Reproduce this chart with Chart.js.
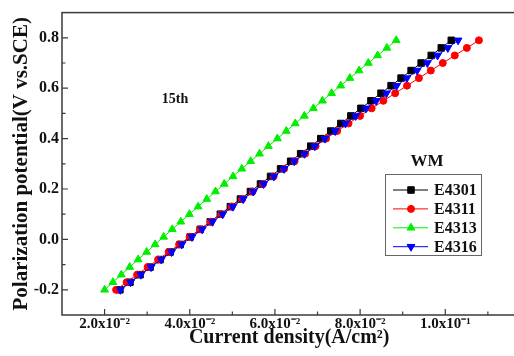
<!DOCTYPE html>
<html>
<head>
<meta charset="utf-8">
<script src="https://cdn.jsdelivr.net/npm/chart.js@4.4.1/dist/chart.umd.min.js"></script>
<style>
  html, body { margin: 0; padding: 0; background: #fff; overflow: hidden; }
  #wrap { width: 514px; height: 356px; overflow: hidden; }
</style>
</head>
<body>
<div id="wrap"><canvas id="polChart" width="522" height="356"></canvas></div>
<script>
// =============== DATA ===============
const potential = [-0.20, -0.17, -0.14, -0.11, -0.08, -0.05, -0.02, 0.01, 0.04, 0.07, 0.10, 0.13,
  0.16, 0.19, 0.22, 0.25, 0.28, 0.31, 0.34, 0.37, 0.40, 0.43, 0.46, 0.49, 0.52, 0.55, 0.58,
  0.61, 0.64, 0.67, 0.70, 0.73, 0.76, 0.79];

const e4301 = [0.02360, 0.02596, 0.02832, 0.03067, 0.03303, 0.03539, 0.03775, 0.04011, 0.04246,
  0.04482, 0.04718, 0.04954, 0.05190, 0.05425, 0.05661, 0.05897, 0.06133, 0.06369, 0.06604,
  0.06840, 0.07076, 0.07312, 0.07548, 0.07783, 0.08019, 0.08255, 0.08491, 0.08727, 0.08962,
  0.09198, 0.09434, 0.09670, 0.09906, 0.10141];

const e4311 = [0.02270, 0.02517, 0.02763, 0.03010, 0.03256, 0.03503, 0.03750, 0.03996, 0.04243,
  0.04489, 0.04736, 0.04983, 0.05229, 0.05476, 0.05722, 0.05969, 0.06216, 0.06462, 0.06709,
  0.06955, 0.07202, 0.07462, 0.07728, 0.07998, 0.08271, 0.08546, 0.08823, 0.09101, 0.09380,
  0.09660, 0.09941, 0.10223, 0.10506, 0.10790];

const e4313 = [0.02000, 0.02196, 0.02393, 0.02590, 0.02788, 0.02987, 0.03187, 0.03387, 0.03588,
  0.03790, 0.03992, 0.04196, 0.04400, 0.04604, 0.04810, 0.05016, 0.05222, 0.05430, 0.05638,
  0.05847, 0.06057, 0.06267, 0.06478, 0.06690, 0.06903, 0.07116, 0.07330, 0.07545, 0.07760,
  0.07976, 0.08193, 0.08411, 0.08629, 0.08848];

const e4316 = [0.02370, 0.02610, 0.02851, 0.03091, 0.03331, 0.03572, 0.03812, 0.04052, 0.04292,
  0.04533, 0.04773, 0.05013, 0.05254, 0.05494, 0.05734, 0.05975, 0.06215, 0.06455, 0.06695,
  0.06936, 0.07176, 0.07416, 0.07657, 0.07897, 0.08137, 0.08378, 0.08618, 0.08858, 0.09098,
  0.09339, 0.09579, 0.09819, 0.10060, 0.10300];

const xTickValues = [0.02, 0.04, 0.06, 0.08, 0.10];
const xTickLabels = ["2.0x10\u207B\u00B2", "4.0x10\u207B\u00B2", "6.0x10\u207B\u00B2", "8.0x10\u207B\u00B2", "1.0x10\u207B\u00B9"];
const xMinorTicks = [0.03, 0.05, 0.07, 0.09, 0.11];
const yTickValues = [-0.2, 0.0, 0.2, 0.4, 0.6, 0.8];
const yMinorTicks = [-0.1, 0.1, 0.3, 0.5, 0.7];

const seriesNames = ["E4301", "E4311", "E4313", "E4316"];

// =============== STYLE ===============
const FONT = "'Liberation Serif', 'Times New Roman', serif";
const AXIS = "#3a3a3a";

const styles = [
  { color: "#000000", pointStyle: "rect", radius: 4.6, rotation: 0, order: 3 },
  { color: "#ff0000", pointStyle: "circle", radius: 3.5, rotation: 0, order: 2 },
  { color: "#00ee00", pointStyle: "triangle", radius: 4.5, rotation: 0, order: 1 },
  { color: "#0000ff", pointStyle: "triangle", radius: 4.5, rotation: 180, order: 0 },
];

const seriesData = [e4301, e4311, e4313, e4316];

const datasets = seriesData.map((xs, i) => ({
  label: seriesNames[i],
  data: xs.map((x, k) => ({ x: x, y: potential[k] })),
  borderColor: styles[i].color,
  backgroundColor: styles[i].color,
  borderWidth: 1,
  pointStyle: styles[i].pointStyle,
  pointRotation: styles[i].rotation,
  pointRadius: styles[i].radius,
  pointBorderWidth: 1,
  order: styles[i].order,
  tension: 0,
}));

// frame, inward ticks, annotations and the boxed legend
const decorPlugin = {
  id: "decor",
  afterDraw(chart) {
    const { ctx, chartArea: a, scales: { x, y } } = chart;
    ctx.save();
    ctx.strokeStyle = AXIS;
    ctx.lineWidth = 1.5;
    ctx.strokeRect(a.left, a.top, a.right - a.left, a.bottom - a.top);

    ctx.lineWidth = 1.2;
    ctx.beginPath();
    xTickValues.forEach(v => { const px = x.getPixelForValue(v); ctx.moveTo(px, a.bottom); ctx.lineTo(px, a.bottom - 6); });
    xMinorTicks.forEach(v => { const px = x.getPixelForValue(v); ctx.moveTo(px, a.bottom); ctx.lineTo(px, a.bottom - 3.5); });
    yTickValues.forEach(v => { const py = y.getPixelForValue(v); ctx.moveTo(a.left, py); ctx.lineTo(a.left + 6, py); });
    yMinorTicks.forEach(v => { const py = y.getPixelForValue(v); ctx.moveTo(a.left, py); ctx.lineTo(a.left + 3.5, py); });
    ctx.stroke();

    ctx.fillStyle = "#111";
    ctx.textAlign = "center";
    ctx.textBaseline = "middle";
    ctx.font = "bold 14px " + FONT;
    ctx.fillText("15th", 175, 99);
    ctx.font = "bold 17px " + FONT;
    ctx.fillText("WM", 427, 162);

    // legend box
    ctx.strokeStyle = "#666";
    ctx.lineWidth = 1;
    ctx.strokeRect(385.5, 174.5, 96, 81);
    ctx.font = "bold 16px " + FONT;
    ctx.textAlign = "left";
    seriesNames.forEach((name, i) => {
      const ly = 190 + i * 18.9;
      const st = styles[i];
      ctx.strokeStyle = st.color;
      ctx.fillStyle = st.color;
      ctx.lineWidth = 1;
      ctx.beginPath();
      ctx.moveTo(393, ly);
      ctx.lineTo(428, ly);
      ctx.stroke();
      Chart.helpers.drawPoint(ctx, { pointStyle: st.pointStyle, rotation: st.rotation, radius: st.radius, borderWidth: 1 }, 411, ly);
      ctx.fillStyle = "#111";
      ctx.fillText(name, 434, ly + 1);
    });
    ctx.restore();
  },
};

// =============== CHART ===============
new Chart(document.getElementById("polChart"), {
  type: "line",
  data: { datasets },
  options: {
    responsive: false,
    animation: false,
    layout: { padding: { top: 8, right: 0, bottom: 0, left: 0 } },
    plugins: { legend: { display: false }, tooltip: { enabled: false } },
    scales: {
      x: {
        type: "linear",
        min: 0.01,
        max: 0.1167,
        afterBuildTicks: s => { s.ticks = xTickValues.map(v => ({ value: v })); },
        afterFit: s => { s.height = 41; },
        grid: { display: false, drawTicks: false },
        border: { display: false },
        ticks: {
          autoSkip: false,
          maxRotation: 0,
          padding: 0,
          color: "#111",
          font: { family: FONT, size: 15, weight: "bold" },
          callback: (v, i) => xTickLabels[i],
        },
        title: {
          display: true,
          text: "Current density(A/cm\u00B2)",
          color: "#111",
          font: { family: FONT, size: 20, weight: "bold" },
          padding: { top: 0, bottom: 6 },
        },
      },
      y: {
        type: "linear",
        min: -0.3,
        max: 0.9,
        afterBuildTicks: s => { s.ticks = yTickValues.map(v => ({ value: v })); },
        afterFit: s => { s.width = 62; },
        grid: { display: false, drawTicks: false },
        border: { display: false },
        ticks: {
          padding: 3,
          color: "#111",
          font: { family: FONT, size: 16, weight: "bold" },
          callback: v => v.toFixed(1),
        },
        title: {
          display: true,
          text: "Polarization potential(V vs.SCE)",
          color: "#111",
          font: { family: FONT, size: 21, weight: "bold" },
          padding: { top: 9, bottom: 0 },
        },
      },
    },
  },
  plugins: [decorPlugin],
});
</script>
</body>
</html>
